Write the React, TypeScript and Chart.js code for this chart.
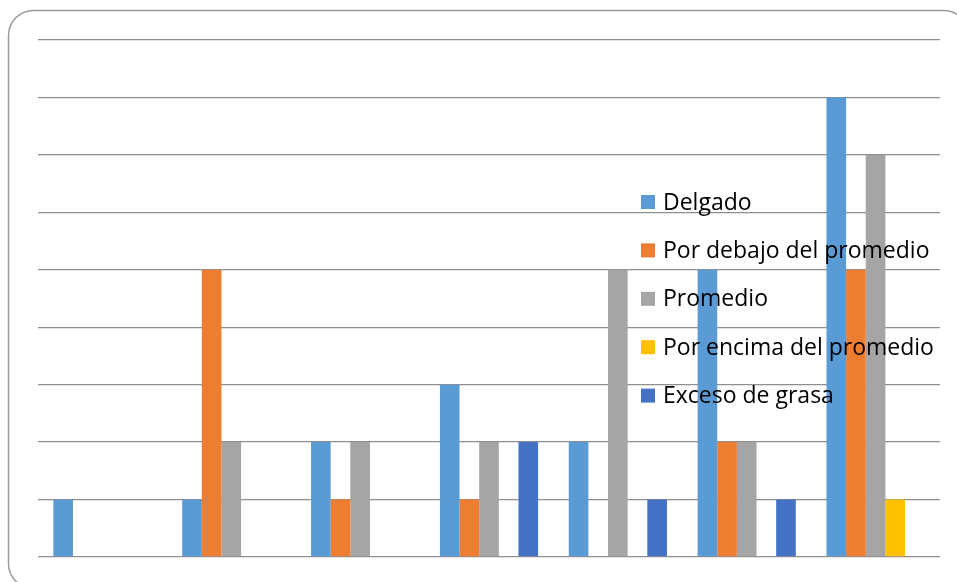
import React, { useEffect, useRef } from "react";
import { Chart, registerables } from "chart.js";

Chart.register(...registerables);

// Body-composition counts per group
const categories = ["1", "2", "3", "4", "5", "6", "7"];
const seriesNames = [
  "Delgado",
  "Por debajo del promedio",
  "Promedio",
  "Por encima del promedio",
  "Exceso de grasa",
];
const delgado = [1, 1, 2, 3, 2, 5, 8];
const porDebajo = [0, 5, 1, 1, 0, 2, 5];
const promedio = [0, 2, 2, 2, 5, 2, 7];
const porEncima = [0, 0, 0, 0, 0, 0, 1];
const excesoGrasa = [0, 0, 0, 2, 1, 1, 0];
const seriesColors = ["#5B9BD5", "#ED7D31", "#A5A5A5", "#FFC000", "#4472C4"];
const yMax = 9;

// Rounded frame behind the plot
const framePlugin = {
  id: "frame",
  beforeDraw(chart: any) {
    const ctx = chart.ctx;
    ctx.save();
    ctx.fillStyle = "#ffffff";
    ctx.fillRect(0, 0, chart.width, chart.height);
    ctx.beginPath();
    ctx.roundRect(8.5, 10.5, 960, 578, 25);
    ctx.lineWidth = 1.5;
    ctx.strokeStyle = "#9a9a9a";
    ctx.stroke();
    ctx.restore();
  },
};

// Legend laid over the plot area, drawn after the bars
const overlayLegend = {
  id: "overlayLegend",
  afterDatasetsDraw(chart: any) {
    const ctx = chart.ctx;
    ctx.save();
    ctx.font = '23px "Open Sans"';
    ctx.textBaseline = "alphabetic";
    ctx.textAlign = "left";
    chart.data.datasets.forEach((ds: any, i: number) => {
      const cy = 202 + i * 48.4;
      ctx.fillStyle = ds.backgroundColor;
      ctx.fillRect(641, cy - 7, 14, 14);
      ctx.fillStyle = "#000000";
      ctx.fillText(ds.label, 663, cy + 7.5);
    });
    ctx.restore();
  },
};

export default function App() {
  const ref = useRef<HTMLCanvasElement | null>(null);

  useEffect(() => {
    if (!ref.current) return;
    const values = [delgado, porDebajo, promedio, porEncima, excesoGrasa];
    const chart = new Chart(ref.current, {
      type: "bar",
      data: {
        labels: categories,
        datasets: values.map((v, i) => ({
          label: seriesNames[i],
          data: v,
          backgroundColor: seriesColors[i],
          borderWidth: 0,
          barPercentage: 1,
          categoryPercentage: 0.762,
        })),
      },
      options: {
        responsive: false,
        animation: false,
        layout: { padding: { left: 38, top: 40, right: 17, bottom: 25 } },
        plugins: {
          legend: { display: false },
          tooltip: { enabled: false },
          title: { display: false },
        },
        scales: {
          x: { display: false },
          y: {
            min: 0,
            max: yMax,
            ticks: { display: false, stepSize: 1 },
            border: { display: false },
            grid: { color: "#8f8f8f", lineWidth: 1.3, drawTicks: false },
          },
        },
      },
      plugins: [framePlugin, overlayLegend],
    });
    return () => chart.destroy();
  }, []);

  return (
    <div
      style={{
        position: "fixed",
        left: 0,
        top: 0,
        width: 957,
        height: 582,
        overflow: "hidden",
        background: "#fff",
      }}
    >
      <canvas ref={ref} width={957} height={582} style={{ display: "block" }} />
    </div>
  );
}
